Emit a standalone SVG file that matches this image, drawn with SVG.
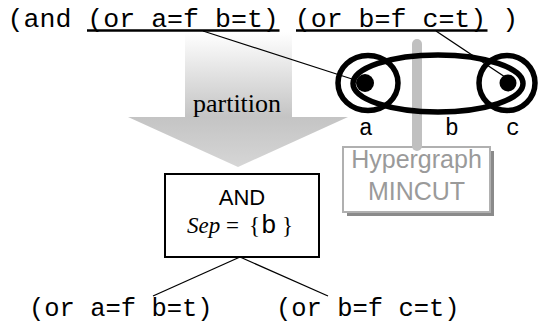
<svg xmlns="http://www.w3.org/2000/svg" width="540" height="326" viewBox="0 0 540 326">
<style>
.mono{font-family:"Liberation Mono","DejaVu Sans Mono",monospace;fill:#000}
.serif{font-family:"Liberation Serif","Times New Roman",serif;fill:#000}
.sans{font-family:"Liberation Sans",Arial,sans-serif}
.conn{stroke:#000;stroke-width:1.3;fill:none}
.hg{fill:none;stroke:#000;stroke-width:5.5}
</style>
<defs>
<linearGradient id="arrowGrad" gradientUnits="userSpaceOnUse" x1="0" y1="32" x2="0" y2="167">
<stop offset="0" stop-color="#ffffff"/>
<stop offset="0.63" stop-color="#c4c4c4"/>
<stop offset="1" stop-color="#d6d6d6"/>
</linearGradient>
</defs>

<g id="partition-arrow">
<path d="M185,32 H292 V117 H348 L238,167 L128,117 H185 Z" fill="url(#arrowGrad)"/>
<text class="serif" x="237" y="112" font-size="26" text-anchor="middle">partition</text>
</g>

<g id="formula">
<text class="mono" x="7.5" y="27" font-size="26.6" xml:space="preserve">(and (or a=f b=t) (or b=f c=t) )</text>
<line x1="87" y1="30.5" x2="279.5" y2="30.5" stroke="#000" stroke-width="2.6"/>
<line x1="296" y1="30.5" x2="487.5" y2="30.5" stroke="#000" stroke-width="2.6"/>
</g>

<g id="mincut">
<rect x="347" y="151" width="147" height="65" fill="#8a8a8a"/>
<rect x="343" y="147" width="147" height="65" fill="#fff" stroke="#b0b0b0" stroke-width="2"/>
<text class="sans" x="416.5" y="168" font-size="25" text-anchor="middle" fill="#9a9a9a">Hypergraph</text>
<text class="sans" x="416.5" y="200" font-size="25" text-anchor="middle" fill="#9a9a9a">MINCUT</text>
</g>

<g id="cut-line">
<line x1="417" y1="44" x2="417" y2="146" stroke="#c0c0c0" stroke-width="10" stroke-linecap="round"/>
</g>

<g id="hypergraph">
<ellipse class="hg" cx="438" cy="83.5" rx="85" ry="28.5"/>
<ellipse class="hg" cx="368" cy="83" rx="30" ry="27.5"/>
<ellipse class="hg" cx="507" cy="83" rx="28" ry="27.5"/>
<circle cx="365" cy="83" r="9" fill="#000"/>
<circle cx="508" cy="83" r="8.5" fill="#000"/>
<text class="mono" x="366" y="135" font-size="23" text-anchor="middle">a</text>
<text class="mono" x="452" y="135" font-size="23" text-anchor="middle">b</text>
<text class="mono" x="513" y="135" font-size="23" text-anchor="middle">c</text>
</g>

<g id="and-node">
<rect x="165" y="174" width="154" height="83" fill="#fff" stroke="#000" stroke-width="2"/>
<text class="sans" x="242" y="205" font-size="22" text-anchor="middle" fill="#000">AND</text>
<text y="233" font-size="23"><tspan class="serif" x="187" font-style="italic">Sep</tspan><tspan class="serif" x="226">=</tspan><tspan class="serif" x="249">{</tspan><tspan class="mono" x="261" font-size="26">b</tspan><tspan class="serif" x="282">}</tspan></text>
</g>

<g id="clause-left">
<text class="mono" x="29" y="316" font-size="25.5" xml:space="preserve">(or a=f b=t)</text>
</g>
<g id="clause-right">
<text class="mono" x="276" y="316" font-size="25.5" xml:space="preserve">(or b=f c=t)</text>
</g>

<g id="connectors">
<line class="conn" x1="203" y1="31" x2="352" y2="79"/>
<line class="conn" x1="436" y1="31" x2="505" y2="77"/>
<line class="conn" x1="240" y1="257" x2="153" y2="296"/>
<line class="conn" x1="240" y1="257" x2="328" y2="296"/>
</g>
</svg>
